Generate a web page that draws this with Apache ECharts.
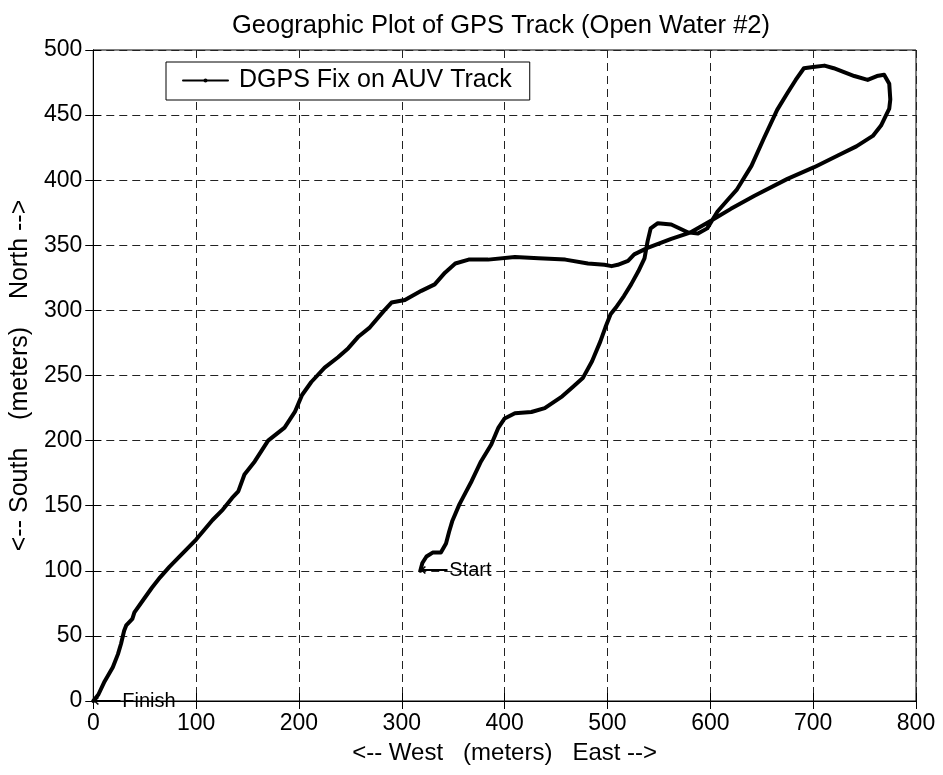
<!DOCTYPE html>
<html><head><meta charset="utf-8">
<script src="https://cdn.jsdelivr.net/npm/echarts@6/dist/echarts.min.js"></script>
<style>html,body{margin:0;padding:0;background:#fff}#c{width:943px;height:775px}</style>
</head><body><div id="c"></div>
<script>
// Track segments (East m, North m), in time order
var legOut = [[318,100],[320,106],[324,111],[330,114],[338,114],[343,121],[346,130],[349,138],[356,151],[362,160],[368,169],[377,184],[387,197],[394,210],[400,217],[410,221],[426,222],[439,225],[456,234],[466,241],[476,248],[485,261],[493,276],[498,287],[503,297],[508,302],[516,311],[523,320],[530,330],[536,340],[539,353],[542,363],[549,367],[562,366],[578,360],[588,359],[597,363]];
var loopTop = [[607,376],[617,385],[626,393],[640,411],[652,432],[665,454],[675,467],[683,477],[691,486],[700,487],[711,488],[720,486],[730,483],[740,480],[753,477],[762,480],[769,481],[774,474],[775,462],[774,455],[766,442],[758,434],[742,426],[724,419],[701,410],[675,401],[643,388],[620,378]];
var legBack = [[601,369],[581,360],[562,355],[539,348],[526,343],[520,338],[510,335],[504,334],[497,335],[481,336],[459,339],[433,340],[410,341],[384,339],[365,339],[352,336],[342,329],[332,320],[319,315],[303,308],[290,306],[283,300],[269,287]];
var legHome = [[258,280],[248,271],[238,264],[225,256],[212,245],[203,235],[196,222],[186,210],[170,200],[157,184],[147,174],[141,161],[135,156],[126,147],[116,139],[100,124],[84,111],[74,103],[65,95],[57,87],[48,77],[40,68],[38,63],[32,58],[30,54],[27,44],[24,36],[19,26],[11,15],[5,5],[0,0]];
var annotations = [[318,100,'\u27F5Start'],[0,0,'\u27F5Finish']];
var seriesName = 'DGPS Fix on AUV Track';
var titleText = 'Geographic Plot of GPS Track (Open Water #2)';
var xName = '<-- West   (meters)   East -->';
var yName = '<-- South    (meters)    North -->';

var track = legOut.concat(loopTop, legBack, legHome);
var FONT = '"Liberation Sans", Arial, Helvetica, sans-serif';
var chart = echarts.init(document.getElementById('c'), null, {renderer:'canvas'});
var gridStyle = {show:true, lineStyle:{color:'#222', width:1, type:[8,5]}};
chart.setOption({
  animation:false,
  backgroundColor:'#fff',
  title:{text:titleText, left:496, textAlign:'center', top:8,
    textStyle:{fontFamily:FONT, fontSize:25.5, fontWeight:'normal', color:'#000'}},
  legend:{data:[seriesName], left:166, top:62, orient:'horizontal',
    itemWidth:45, itemHeight:5, itemGap:0,
    padding:[6,18,7,16], borderColor:'#000', borderWidth:1, borderRadius:0,
    backgroundColor:'#fff',
    textStyle:{fontFamily:FONT, fontSize:25, color:'#000', padding:[0,0,0,6]}},
  grid:{left:93, right:27, top:50, bottom:74, show:true, borderColor:'#000', borderWidth:1},
  xAxis:[{type:'value', min:0, max:800, interval:100, name:xName, nameLocation:'middle', nameGap:40,
    nameTextStyle:{fontFamily:FONT, fontSize:24, color:'#000'},
    axisLine:{show:true, lineStyle:{color:'#000'}},
    axisTick:{show:true, inside:true, length:8, lineStyle:{color:'#000'}},
    axisLabel:{fontFamily:FONT, fontSize:23, color:'#000', margin:11},
    splitLine:gridStyle},
    {type:'value', position:'top', min:0, max:800, interval:100,
    axisLine:{show:true, lineStyle:{color:'#000'}},
    axisTick:{show:true, inside:true, length:8, lineStyle:{color:'#000'}},
    axisLabel:{show:false}, splitLine:{show:false}}],
  yAxis:[{type:'value', min:0, max:500, interval:50, name:yName, nameLocation:'middle', nameGap:60,
    nameTextStyle:{fontFamily:FONT, fontSize:25, color:'#000'},
    axisLine:{show:true, lineStyle:{color:'#000'}},
    axisTick:{show:true, inside:true, length:8, lineStyle:{color:'#000'}},
    axisLabel:{fontFamily:FONT, fontSize:23, color:'#000', margin:11},
    splitLine:gridStyle},
    {type:'value', position:'right', min:0, max:500, interval:50,
    axisLine:{show:true, lineStyle:{color:'#000'}},
    axisTick:{show:true, inside:true, length:8, lineStyle:{color:'#000'}},
    axisLabel:{show:false}, splitLine:{show:false}}],
  series:[
    {name:seriesName, type:'line', data:track, showSymbol:false, symbol:'circle', symbolSize:4,
     lineStyle:{color:'#000', width:4, join:'round', cap:'round'}, itemStyle:{color:'#000'}, z:5, clip:false},
    {name:'notes', type:'scatter', data:annotations, symbolSize:0, silent:true, z:6,
     itemStyle:{color:'#000', opacity:1},
     label:{show:true, position:'right', distance:0, fontFamily:FONT, fontSize:20, color:'#000', opacity:1,
       formatter:function(p){return p.data[2];}}}
  ]
});
</script></body></html>
